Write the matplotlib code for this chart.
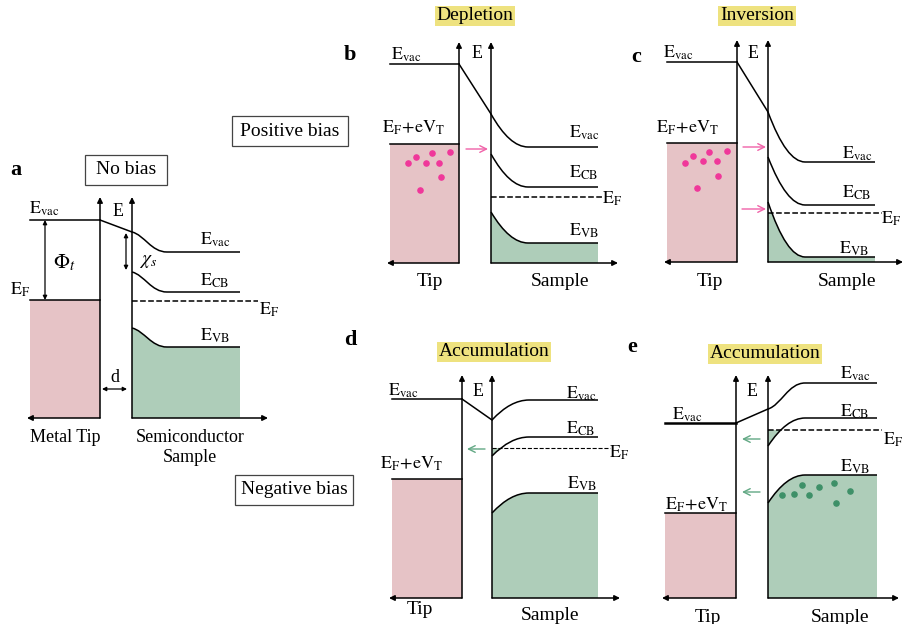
import matplotlib.pyplot as plt
from matplotlib.path import Path
from matplotlib.patches import PathPatch, Rectangle

plt.rcParams['font.family'] = ['Liberation Serif', 'DejaVu Serif']
plt.rcParams['mathtext.fontset'] = 'stix'

# colours
PINK = '#e6c3c6'
GREEN = '#aecdb9'
DOT_PINK = '#f0379a'
DOT_GREEN = '#3e9068'
ARR_PINK = '#f062a8'
ARR_GREEN = '#62a884'
HILITE = '#eee27f'

# ---- band levels (image pixel units, y grows downward) ----
# each panel: tip x-range, tip axis, sample axis, bend end x, flat end x, bottom
# levels: [at-axis, bulk]
# panel a - no bias
a_tip = [30, 100]; a_samp = 132; a_bend = 167; a_end = 240; a_top = 197; a_bot = 418
a_evac_tip = 220; a_ef_tip = 300
a_evac = [232, 252]; a_ecb = [272, 292]; a_ef = 301; a_evb = [328, 347]

# panel b - depletion
b_tip = [390, 459]; b_samp = 491; b_bend = 528; b_end = 598; b_top = 42; b_bot = 263
b_evac_tip = 64; b_ef_tip = 144
b_evac = [114, 147]; b_ecb = [154, 187]; b_ef = 197; b_evb = [212, 243]
b_dots_x = [408, 416, 426, 432, 439, 450, 441, 420]
b_dots_y = [163, 157, 163, 153, 163, 152, 177, 190]

# panel c - inversion
c_tip = [667, 737]; c_samp = 768; c_bend = 805; c_end = 875; c_top = 40; c_bot = 262
c_evac_tip = 62; c_ef_tip = 143
c_evac = [112, 162]; c_ecb = [157, 205]; c_ef = 213; c_evb = [202, 257]
c_dots_x = [685, 693, 703, 709, 717, 727, 718, 697]
c_dots_y = [163, 156, 161, 152, 161, 151, 176, 188]

# panel d - accumulation
d_tip = [392, 462]; d_samp = 492; d_bend = 529; d_end = 598; d_top = 375; d_bot = 598
d_evac_tip = 399; d_ef_tip = 479
d_evac = [420, 400]; d_ecb = [456, 437]; d_ef = 448; d_evb = [513, 493]

# panel e - accumulation
e_tip = [665, 736]; e_samp = 768; e_bend = 805; e_end = 877; e_top = 375; e_bot = 598
e_evac_tip = 423; e_ef_tip = 513
e_evac = [409, 383]; e_ecb = [446, 418]; e_ef = 430; e_evb = [503, 475]
e_dots_x = [782, 794, 802, 809, 819, 834, 836, 850]
e_dots_y = [495, 494, 485, 495, 487, 483, 503, 491]

fig = plt.figure(figsize=(9.07, 6.24), dpi=100)
ax = fig.add_axes([0, 0, 1, 1])
ax.set_xlim(0, 907)
ax.set_ylim(624, 0)
ax.axis('off')

LW = 1.1


def bend_path(x0, y0, x1, y1, xe, s=False):
    # smooth band bending from the surface to the bulk, then flat
    w = x1 - x0
    if s:
        verts = [(x0, y0), (x0 + 0.35 * w, y0 + 0.15 * (y1 - y0)),
                 (x0 + 0.55 * w, y1), (x1, y1), (xe, y1)]
        codes = [Path.MOVETO, Path.CURVE4, Path.CURVE4, Path.CURVE4, Path.LINETO]
    else:
        verts = [(x0, y0), (x0 + 0.5 * w, y1), (x1, y1), (xe, y1)]
        codes = [Path.MOVETO, Path.CURVE3, Path.CURVE3, Path.LINETO]
    return verts, codes


def draw_level(x0, lev, x1, xe, s=False, color='k', lw=LW):
    v, c = bend_path(x0, lev[0], x1, lev[1], xe, s)
    ax.add_patch(PathPatch(Path(v, c), fill=False, ec=color, lw=lw, zorder=3))


def fill_below(x0, lev, x1, xe, bot, s=False, clip_top=None):
    v, c = bend_path(x0, lev[0], x1, lev[1], xe, s)
    v = [(x0, bot)] + v + [(xe, bot), (x0, bot)]
    c = [Path.MOVETO] + [Path.LINETO] + c[1:] + [Path.LINETO, Path.CLOSEPOLY]
    p = PathPatch(Path(v, c), fc=GREEN, ec='none', zorder=1)
    ax.add_patch(p)
    if clip_top is not None:
        r = Rectangle((x0, clip_top), xe - x0, bot - clip_top, transform=ax.transData)
        p.set_clip_path(r)


def fill_pocket(x0, lev, x1, xe, ef):
    # electrons accumulated where the CB dips under E_F
    v, c = bend_path(x0, lev[0], x1, lev[1], xe, False)
    v = [(x0, ef - 50)] + v + [(xe, ef - 50), (x0, ef - 50)]
    c = [Path.MOVETO] + [Path.LINETO] + c[1:] + [Path.LINETO, Path.CLOSEPOLY]
    p = PathPatch(Path(v, c), fc=GREEN, ec='none', zorder=1)
    ax.add_patch(p)
    p.set_clip_path(Rectangle((x0, ef), xe - x0, 60, transform=ax.transData))


def axes_frame(tip, samp, top, bot, right):
    ax.add_patch(Rectangle((tip[0], 0), 0, 0))
    # tip axis with arrow up, bottom arrow left
    ax.annotate('', xy=(tip[1], top), xytext=(tip[1], bot),
                arrowprops=dict(arrowstyle='-|>', lw=LW, color='k', mutation_scale=8,
                                shrinkA=0, shrinkB=0), zorder=4)
    ax.annotate('', xy=(tip[0] - 3, bot), xytext=(tip[1], bot),
                arrowprops=dict(arrowstyle='-|>', lw=LW, color='k', mutation_scale=8,
                                shrinkA=0, shrinkB=0), zorder=4)
    ax.annotate('', xy=(samp, top), xytext=(samp, bot),
                arrowprops=dict(arrowstyle='-|>', lw=LW, color='k', mutation_scale=8,
                                shrinkA=0, shrinkB=0), zorder=4)
    ax.annotate('', xy=(right, bot), xytext=(samp, bot),
                arrowprops=dict(arrowstyle='-|>', lw=LW, color='k', mutation_scale=8,
                                shrinkA=0, shrinkB=0), zorder=4)


def tip_block(tip, evac, ef, bot, elw=LW):
    ax.add_patch(Rectangle((tip[0], ef), tip[1] - tip[0], bot - ef, fc=PINK, ec='none', zorder=1))
    ax.plot(tip, [ef, ef], color='k', lw=LW, zorder=3)
    ax.plot(tip, [evac, evac], color='k', lw=elw, zorder=3)


def arrow(x0, x1, y, color):
    ax.annotate('', xy=(x1, y), xytext=(x0, y),
                arrowprops=dict(arrowstyle='->', lw=1.0, color=color, mutation_scale=12,
                                shrinkA=0, shrinkB=0), zorder=4)


def dbl(x0, y0, x1, y1):
    ax.annotate('', xy=(x1, y1), xytext=(x0, y0),
                arrowprops=dict(arrowstyle='<|-|>', lw=0.9, color='k', mutation_scale=6,
                                shrinkA=0, shrinkB=0), zorder=4)


def lab(x, y, s, size=12, **kw):
    ax.text(x, y, s, fontsize=size, ha='center', va='center', **kw)


def box(x0, y0, x1, y1, s):
    ax.add_patch(Rectangle((x0, y0), x1 - x0, y1 - y0, fc='white', ec='#444444', lw=0.9))
    lab((x0 + x1) / 2, (y0 + y1) / 2, s, size=14)


def title(x, y, s):
    ax.text(x, y, s, fontsize=14, ha='center', va='center',
            bbox=dict(boxstyle='square,pad=0.1', fc=HILITE, ec='none'))


EV = r'$\mathrm{E_{vac}}$'
ECB = r'$\mathrm{E_{CB}}$'
EVB = r'$\mathrm{E_{VB}}$'
EF = r'$\mathrm{E_F}$'
EFV = r'$\mathrm{E_F\!+\!eV_T}$'

# ---------------- panel a ----------------
tip_block(a_tip, a_evac_tip, a_ef_tip, a_bot)
fill_below(a_samp, a_evb, a_bend, a_end, a_bot, s=True)
axes_frame(a_tip, a_samp, a_top, a_bot, 268)
ax.plot([a_tip[1], a_samp], [a_evac_tip, a_evac[0]], color='k', lw=LW)
draw_level(a_samp, a_evac, a_bend, a_end, s=True)
draw_level(a_samp, a_ecb, a_bend, a_end, s=True)
draw_level(a_samp, a_evb, a_bend, a_end, s=True)
ax.plot([a_samp, 258], [a_ef, a_ef], 'k--', lw=LW)
dbl(45, a_evac_tip, 45, a_ef_tip)
dbl(126, 233, 126, 270)
dbl(102, 389, 127, 389)
lab(64, 263, r'$\Phi_t$', size=15)
lab(148, 262, r'$\chi_s$', size=14)
lab(115, 378, 'd', size=13)
lab(44, 209, EV, size=13)
lab(20, 290, EF, size=13)
lab(118, 212, 'E', size=13)
lab(215, 240, EV, size=13)
lab(215, 281, ECB, size=13)
lab(269, 310, EF, size=13)
lab(215, 336, EVB, size=13)
lab(65, 438, 'Metal Tip', size=13)
lab(190, 438, 'Semiconductor', size=13)
lab(190, 458, 'Sample', size=13)
lab(16, 170, 'a', size=16, fontweight='bold')
box(85, 155, 167, 185, 'No bias')

# ---------------- panel b ----------------
tip_block(b_tip, b_evac_tip, b_ef_tip, b_bot)
fill_below(b_samp, b_evb, b_bend, b_end, b_bot)
axes_frame(b_tip, b_samp, b_top, b_bot, 618)
ax.plot([b_tip[1], b_samp], [b_evac_tip, b_evac[0]], color='k', lw=LW)
draw_level(b_samp, b_evac, b_bend, b_end)
draw_level(b_samp, b_ecb, b_bend, b_end)
draw_level(b_samp, b_evb, b_bend, b_end)
ax.plot([b_samp, 602], [b_ef, b_ef], 'k--', lw=LW)
ax.scatter(b_dots_x, b_dots_y, s=14, color=DOT_PINK, zorder=3)
arrow(466, 488, 149, ARR_PINK)
lab(406, 55, EV, size=13)
lab(477, 54, 'E', size=13)
lab(414, 128, EFV, size=13)
lab(584, 133, EV, size=13)
lab(584, 173, ECB, size=13)
lab(612, 199, EF, size=13)
lab(584, 231, EVB, size=13)
lab(430, 281, 'Tip', size=14)
lab(560, 282, 'Sample', size=14)
lab(350, 55, 'b', size=16, fontweight='bold')
title(475, 16, 'Depletion')
box(232, 116, 348, 146, 'Positive bias')

# ---------------- panel c ----------------
tip_block(c_tip, c_evac_tip, c_ef_tip, c_bot)
fill_below(c_samp, c_evb, c_bend, c_end, c_bot, clip_top=c_ef)
axes_frame(c_tip, c_samp, c_top, c_bot, 903)
ax.plot([c_tip[1], c_samp], [c_evac_tip, c_evac[0]], color='k', lw=LW)
draw_level(c_samp, c_evac, c_bend, c_end)
draw_level(c_samp, c_ecb, c_bend, c_end)
draw_level(c_samp, c_evb, c_bend, c_end)
ax.plot([c_samp, 882], [c_ef, c_ef], 'k--', lw=LW)
ax.scatter(c_dots_x, c_dots_y, s=14, color=DOT_PINK, zorder=3)
arrow(743, 766, 147, ARR_PINK)
arrow(742, 766, 209, ARR_PINK)
lab(678, 53, EV, size=13)
lab(753, 54, 'E', size=13)
lab(688, 128, EFV, size=13)
lab(857, 154, EV, size=13)
lab(857, 193, ECB, size=13)
lab(891, 219, EF, size=13)
lab(854, 249, EVB, size=13)
lab(710, 282, 'Tip', size=14)
lab(847, 282, 'Sample', size=14)
lab(636, 57, 'c', size=16, fontweight='bold')
title(757, 16, 'Inversion')

# ---------------- panel d ----------------
tip_block(d_tip, d_evac_tip, d_ef_tip, d_bot)
fill_below(d_samp, d_evb, d_bend, d_end, d_bot)
fill_pocket(d_samp, d_ecb, d_bend, d_end, d_ef)
axes_frame(d_tip, d_samp, d_top, d_bot, 620)
ax.plot([d_tip[1], d_samp], [d_evac_tip, d_evac[0]], color='k', lw=LW)
draw_level(d_samp, d_evac, d_bend, d_end)
draw_level(d_samp, d_ecb, d_bend, d_end)
draw_level(d_samp, d_evb, d_bend, d_end)
ax.plot([d_samp, 610], [d_ef, d_ef], 'k--', lw=0.8)
arrow(485, 467, 449, ARR_GREEN)
lab(403, 391, EV, size=13)
lab(478, 391, 'E', size=13)
lab(412, 464, EFV, size=13)
lab(581, 394, EV, size=13)
lab(581, 429, ECB, size=13)
lab(619, 453, EF, size=13)
lab(582, 484, EVB, size=13)
lab(420, 610, 'Tip', size=14)
lab(550, 615, 'Sample', size=14)
lab(350, 340, 'd', size=16, fontweight='bold')
title(494, 352, 'Accumulation')
box(235, 475, 353, 505, 'Negative bias')

# ---------------- panel e ----------------
tip_block(e_tip, e_evac_tip, e_ef_tip, e_bot, elw=1.8)
fill_below(e_samp, e_evb, e_bend, e_end, e_bot)
fill_pocket(e_samp, e_ecb, e_bend, e_end, e_ef)
axes_frame(e_tip, e_samp, e_top, e_bot, 899)
ax.plot([e_tip[1], e_samp], [e_evac_tip, e_evac[0]], color='k', lw=LW)
draw_level(e_samp, e_evac, e_bend, e_end, s=True)
draw_level(e_samp, e_ecb, e_bend, e_end)
draw_level(e_samp, e_evb, e_bend, e_end)
ax.plot([e_samp, 882], [e_ef, e_ef], 'k--', lw=LW)
ax.scatter(e_dots_x, e_dots_y, s=14, color=DOT_GREEN, zorder=3)
arrow(760, 742, 439, ARR_GREEN)
arrow(760, 742, 492, ARR_GREEN)
lab(687, 415, EV, size=13)
lab(752, 392, 'E', size=13)
lab(697, 505, EFV, size=13)
lab(855, 374, EV, size=13)
lab(855, 412, ECB, size=13)
lab(893, 440, EF, size=13)
lab(855, 467, EVB, size=13)
lab(708, 617, 'Tip', size=14)
lab(840, 617, 'Sample', size=14)
lab(632, 347, 'e', size=16, fontweight='bold')
title(765, 354, 'Accumulation')

fig.savefig('out.png', dpi=100)
